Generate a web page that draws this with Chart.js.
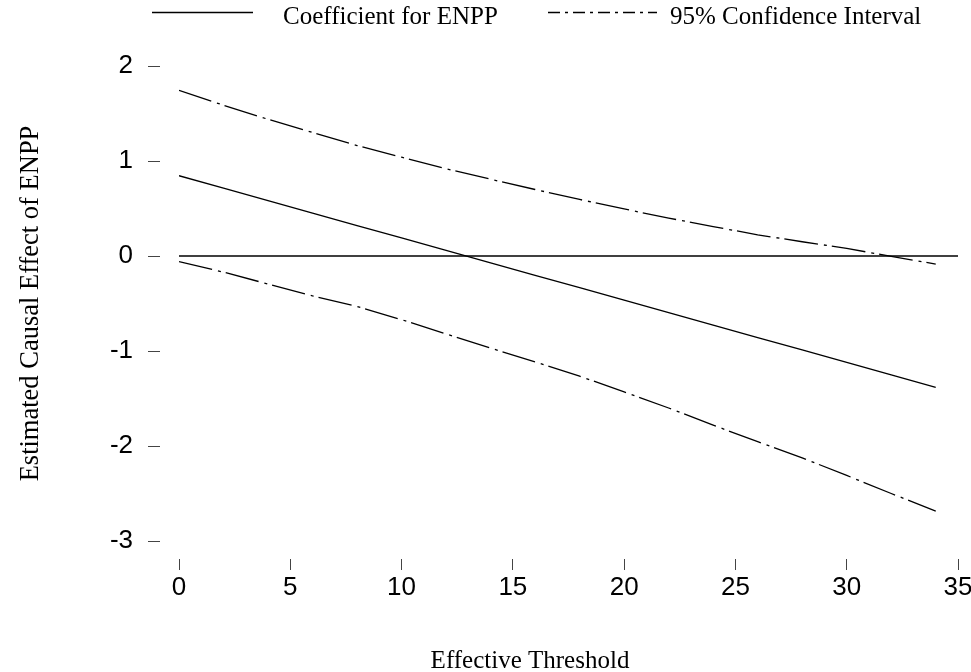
<!DOCTYPE html>
<html><head><meta charset="utf-8">
<script src="https://cdn.jsdelivr.net/npm/chart.js@4.4.1/dist/chart.umd.min.js"></script>
<style>html,body{margin:0;padding:0;background:#fff}#wrap{width:971px;height:672px}</style>
</head><body><div id="wrap"><canvas id="c" width="971" height="672"></canvas></div>
<script>
// Data
const thresholds  = [0, 2, 4, 6, 8, 10, 12, 14, 16, 18, 20, 22, 24, 26, 28, 30, 32, 34];
const coefficient = [0.845, 0.714, 0.583, 0.452, 0.321, 0.190, 0.059, -0.072, -0.203, -0.334, -0.465, -0.596, -0.727, -0.858, -0.989, -1.120, -1.251, -1.382];
const upperCI     = [1.744, 1.587, 1.439, 1.301, 1.163, 1.040, 0.918, 0.808, 0.700, 0.595, 0.495, 0.399, 0.310, 0.223, 0.150, 0.080, -0.004, -0.085];
const lowerCI     = [-0.060, -0.170, -0.295, -0.420, -0.532, -0.670, -0.820, -0.970, -1.115, -1.265, -1.430, -1.600, -1.780, -1.955, -2.125, -2.310, -2.500, -2.685];
const refLineX    = [0, 35];
const refLineY    = [0, 0];
const xTickValues = [0, 5, 10, 15, 20, 25, 30, 35];
const yTickValues = [-3, -2, -1, 0, 1, 2];
const legendLabels = ['Coefficient for ENPP', '95% Confidence Interval'];
const xTitle = 'Effective Threshold';
const yTitle = 'Estimated Causal Effect of ENPP';

const toPts = (xs, ys) => xs.map((x, i) => ({x: x, y: ys[i]}));
const ciDash = [34, 6, 3, 5];

const legendPlugin = {
  id: 'customLegend',
  afterDraw(chart) {
    const ctx = chart.ctx;
    ctx.save();
    ctx.strokeStyle = '#000';
    ctx.lineWidth = 1.3;
    ctx.beginPath(); ctx.moveTo(152, 12.5); ctx.lineTo(253, 12.5); ctx.stroke();
    ctx.setLineDash([12, 5, 3, 5]);
    ctx.beginPath(); ctx.moveTo(548, 12.5); ctx.lineTo(657, 12.5); ctx.stroke();
    ctx.setLineDash([]);
    ctx.fillStyle = '#000';
    ctx.font = '25px "Liberation Serif", "Times New Roman", serif';
    ctx.textBaseline = 'alphabetic';
    ctx.textAlign = 'left';
    ctx.fillText(legendLabels[0], 283, 24);
    ctx.fillText(legendLabels[1], 670, 24);
    ctx.textAlign = 'center';
    ctx.fillText(xTitle, 530, 668);
    ctx.restore();
  }
};

new Chart(document.getElementById('c'), {
  type: 'line',
  data: {
    datasets: [
      {label: legendLabels[0], data: toPts(thresholds, coefficient), borderColor: '#000', borderWidth: 1.3, pointRadius: 0, tension: 0, fill: false},
      {label: legendLabels[1], data: toPts(thresholds, upperCI), borderColor: '#000', borderWidth: 1.3, borderDash: ciDash, pointRadius: 0, tension: 0, fill: false},
      {label: legendLabels[1], data: toPts(thresholds, lowerCI), borderColor: '#000', borderWidth: 1.3, borderDash: ciDash, pointRadius: 0, tension: 0, fill: false},
      {label: 'zero', data: toPts(refLineX, refLineY), borderColor: '#000', borderWidth: 1.3, pointRadius: 0, tension: 0, fill: false}
    ]
  },
  options: {
    responsive: false,
    animation: false,
    devicePixelRatio: 1,
    layout: {padding: {top: 66, right: 13, bottom: 0, left: 0}},
    plugins: {legend: {display: false}, tooltip: {enabled: false}},
    scales: {
      x: {
        type: 'linear', min: 0, max: 35,
        afterBuildTicks: s => { s.ticks = xTickValues.map(v => ({value: v})); },
        afterFit: s => { s.height = 131; s.paddingLeft = 0; s.paddingRight = 0; },
        grid: {display: true, drawOnChartArea: false, drawTicks: true, tickLength: 29, tickColor: '#444', tickWidth: 1, tickBorderDash: [11, 18], tickBorderDashOffset: 11},
        border: {display: false},
        ticks: {padding: 2, color: '#000', font: {family: '"Liberation Sans", Arial, sans-serif', size: 26}, maxRotation: 0, autoSkip: false}
      },
      y: {
        type: 'linear', min: -3, max: 2,
        afterBuildTicks: s => { s.ticks = yTickValues.map(v => ({value: v})); },
        afterFit: s => { s.width = 179; },
        grid: {display: true, drawOnChartArea: false, drawTicks: true, tickLength: 31, tickColor: '#444', tickWidth: 1, tickBorderDash: [12, 40]},
        border: {display: false},
        ticks: {padding: 15, color: '#000', font: {family: '"Liberation Sans", Arial, sans-serif', size: 26}},
        title: {display: true, text: yTitle, color: '#000', padding: {top: 15, bottom: 0}, font: {family: '"Liberation Serif", "Times New Roman", serif', size: 26.5}}
      }
    }
  },
  plugins: [legendPlugin]
});
</script>
</body></html>
